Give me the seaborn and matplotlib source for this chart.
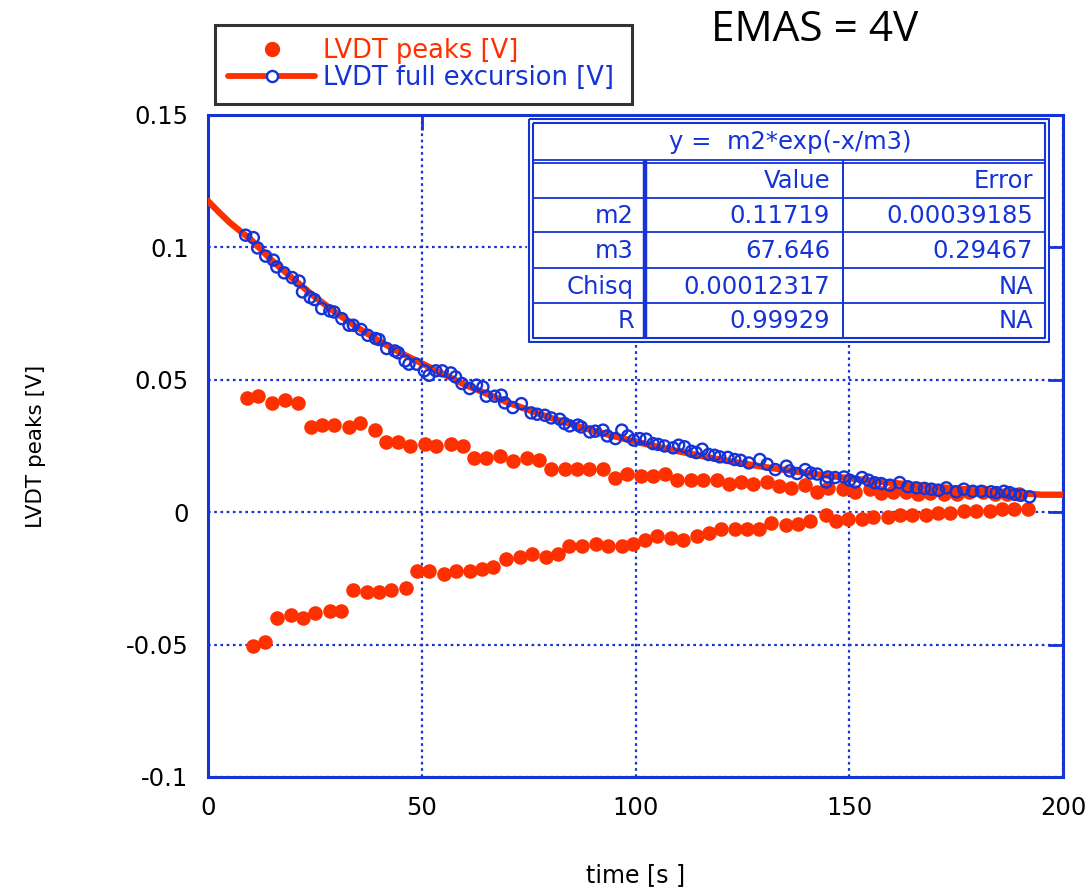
import numpy as np
import pandas as pd
import matplotlib
matplotlib.use("Agg")
import matplotlib.pyplot as plt
from matplotlib.lines import Line2D
import seaborn as sns

# ---------------- data ----------------
upper_t = [9.1, 11.8, 15.0, 17.9, 21.1, 24.0, 26.7, 29.5, 32.9, 35.6, 39.0, 41.7, 44.5, 47.3, 50.7,
           53.4, 56.8, 59.6, 62.3, 65.0, 68.4, 71.3, 74.6, 77.4, 80.2, 83.6, 86.3, 89.1, 92.4, 95.2,
           98.0, 101.3, 104.1, 106.9, 109.7, 113.0, 115.8, 119.1, 121.9, 124.7, 127.5, 130.8, 133.5,
           136.3, 139.7, 142.5, 145.0, 148.5, 151.3, 154.8, 157.5, 160.2, 163.3, 166.1, 168.8, 172.2,
           175.1, 178.1, 181.2, 184.1, 186.8, 189.8]
upper_v = [0.0432, 0.0439, 0.0414, 0.0423, 0.0414, 0.0320, 0.0328, 0.0328, 0.0320, 0.0337, 0.0312,
           0.0265, 0.0265, 0.0249, 0.0256, 0.0249, 0.0256, 0.0249, 0.0203, 0.0203, 0.0211, 0.0194,
           0.0203, 0.0196, 0.0162, 0.0162, 0.0162, 0.0162, 0.0162, 0.0131, 0.0146, 0.0138, 0.0138,
           0.0146, 0.0123, 0.0123, 0.0123, 0.0123, 0.0107, 0.0115, 0.0107, 0.0115, 0.0100, 0.0093,
           0.0102, 0.0077, 0.0093, 0.0086, 0.0077, 0.0086, 0.0073, 0.0075, 0.0075, 0.0067, 0.0071,
           0.0068, 0.0068, 0.0077, 0.0077, 0.0068, 0.0068, 0.0068]

lower_t = [10.6, 13.4, 16.2, 19.5, 22.3, 25.1, 28.5, 31.2, 34.0, 37.3, 40.1, 42.9, 46.2, 48.9, 51.7,
           55.1, 57.9, 61.3, 64.0, 66.7, 69.6, 73.0, 75.7, 79.0, 81.8, 84.5, 87.4, 90.7, 93.5, 96.8,
           99.5, 102.3, 105.1, 108.4, 111.2, 114.4, 117.3, 120.1, 123.3, 126.1, 129.0, 131.7, 135.2,
           137.9, 140.8, 144.6, 146.9, 149.6, 152.9, 155.6, 159.0, 161.9, 164.6, 167.9, 170.7, 173.6,
           176.9, 179.6, 182.9, 185.8, 188.5, 191.9]
lower_v = [-0.0506, -0.0490, -0.0398, -0.0389, -0.0398, -0.0380, -0.0373, -0.0373, -0.0294, -0.0302,
           -0.0302, -0.0294, -0.0286, -0.0223, -0.0223, -0.0232, -0.0223, -0.0223, -0.0215, -0.0208,
           -0.0175, -0.0169, -0.0159, -0.0169, -0.0159, -0.0128, -0.0128, -0.0121, -0.0128, -0.0128,
           -0.0121, -0.0106, -0.0090, -0.0097, -0.0106, -0.0090, -0.0080, -0.0065, -0.0065, -0.0065,
           -0.0065, -0.0042, -0.0050, -0.0043, -0.0034, -0.0011, -0.0034, -0.0026, -0.0026, -0.0019,
           -0.0019, -0.0011, -0.0011, -0.0011, -0.0003, -0.0003, 0.0005, 0.0005, 0.0005, 0.0012,
           0.0012, 0.0012]

circ_t = [8.8, 10.6, 11.6, 13.5, 15.3, 16.1, 17.8, 19.7, 21.3, 22.1,
          23.9, 24.9, 26.6, 28.5, 29.5, 31.3, 33.0, 34.0, 35.8, 37.4,
          39.2, 40.0, 41.8, 43.7, 44.5, 46.1, 47.0, 48.8, 50.6, 51.7,
          53.3, 54.8, 56.8, 57.9, 59.4, 61.2, 62.8, 64.3, 65.1, 67.1,
          68.6, 69.4, 71.3, 73.3, 75.6, 77.0, 78.8, 80.3, 82.3, 83.4,
          84.6, 86.5, 87.3, 89.3, 90.6, 92.4, 93.4, 95.3, 96.8, 98.2,
          99.6, 101.0, 102.5, 104.1, 105.3, 106.8, 108.8, 110.1, 111.5, 113.1,
          114.2, 115.6, 117.1, 118.5, 119.7, 121.6, 123.2, 124.6, 126.5, 129.1,
          130.8, 132.7, 135.3, 136.1, 137.8, 139.7, 141.0, 142.5, 144.6, 145.0,
          146.7, 148.8, 150.1, 151.4, 153.0, 154.5, 156.0, 157.5, 159.5, 161.8,
          163.7, 165.7, 167.6, 169.2, 170.9, 172.7, 175.0, 176.8, 178.9, 180.9,
          183.2, 184.4, 186.2, 187.5, 188.8, 190.2, 192.2]
circ_v = [0.1046, 0.1037, 0.0998, 0.0967, 0.0952, 0.0926, 0.0904, 0.0886, 0.0873, 0.0832,
          0.0811, 0.0803, 0.0769, 0.0760, 0.0756, 0.0731, 0.0706, 0.0706, 0.0690, 0.0668,
          0.0656, 0.0652, 0.0618, 0.0609, 0.0602, 0.0571, 0.0559, 0.0559, 0.0534, 0.0517,
          0.0534, 0.0534, 0.0526, 0.0511, 0.0486, 0.0467, 0.0480, 0.0473, 0.0438, 0.0438,
          0.0442, 0.0413, 0.0395, 0.0410, 0.0375, 0.0370, 0.0366, 0.0356, 0.0351, 0.0335,
          0.0326, 0.0329, 0.0322, 0.0303, 0.0306, 0.0310, 0.0288, 0.0278, 0.0310, 0.0288,
          0.0272, 0.0278, 0.0276, 0.0259, 0.0256, 0.0250, 0.0243, 0.0253, 0.0247, 0.0230,
          0.0225, 0.0238, 0.0218, 0.0215, 0.0209, 0.0207, 0.0199, 0.0196, 0.0186, 0.0199,
          0.0181, 0.0161, 0.0174, 0.0156, 0.0146, 0.0161, 0.0148, 0.0144, 0.0114, 0.0133,
          0.0131, 0.0133, 0.0121, 0.0114, 0.0131, 0.0121, 0.0111, 0.0108, 0.0102, 0.0112,
          0.0096, 0.0092, 0.0090, 0.0087, 0.0083, 0.0092, 0.0077, 0.0087, 0.0079, 0.0079,
          0.0077, 0.0074, 0.0079, 0.0074, 0.0067, 0.0064, 0.0058]

fit_t = [0, 2.5, 5, 7.5, 10, 15, 20, 25, 30, 35, 40, 45, 50, 60, 70, 80, 90, 100, 110, 120,
         130, 140, 150, 160, 170, 180, 190, 195, 200]
fit_v = [0.1175, 0.1134, 0.1095, 0.1062, 0.1030, 0.0950, 0.0880, 0.0813, 0.0752, 0.0697, 0.0647,
         0.0602, 0.0562, 0.0482, 0.0415, 0.0357, 0.0308, 0.0266, 0.0230, 0.0198, 0.0171, 0.0148,
         0.0128, 0.0111, 0.0096, 0.0083, 0.0072, 0.0066, 0.0066]

x_ticks = [0, 50, 100, 150, 200]
x_tick_labels = ["0", "50", "100", "150", "200"]
y_ticks = [-0.1, -0.05, 0, 0.05, 0.1, 0.15]
y_tick_labels = ["-0.1", "-0.05", "0", "0.05", "0.1", "0.15"]

fit_title = "y =  m2*exp(-x/m3)"
tbl_header = ["", "Value", "Error"]
tbl_names = ["m2", "m3", "Chisq", "R"]
tbl_values = ["0.11719", "67.646", "0.00012317", "0.99929"]
tbl_errors = ["0.00039185", "0.29467", "NA", "NA"]

RED = "#ff3000"
BLUE = "#1533d6"

# ---------------- figure ----------------
sns.set_theme(style="white")
plt.rcParams["font.family"] = ["DejaVu Sans"]

W, H = 1091, 889
fig = plt.figure(figsize=(W / 100, H / 100), dpi=100)
L, R, T, B = 208, 1063, 115, 777
ax = fig.add_axes([L / W, 1 - B / H, (R - L) / W, (B - T) / H])

peaks = pd.DataFrame({"t": upper_t + lower_t, "v": upper_v + lower_v})
circ = pd.DataFrame({"t": circ_t, "v": circ_v})
fit = pd.DataFrame({"t": fit_t, "v": fit_v})

sns.lineplot(data=fit, x="t", y="v", ax=ax, color=RED, linewidth=4.6, sort=True, zorder=3)
sns.scatterplot(data=peaks, x="t", y="v", ax=ax, color=RED, s=110, linewidth=0, zorder=4)
sns.scatterplot(data=circ, x="t", y="v", ax=ax, marker="o", s=64, facecolor="none",
                edgecolor=BLUE, linewidth=1.7, zorder=5)

ax.set_xlim(0, 200)
ax.set_ylim(-0.1, 0.15)
ax.set_xticks(x_ticks)
ax.set_xticklabels(x_tick_labels)
ax.set_yticks(y_ticks)
ax.set_yticklabels(y_tick_labels)
ax.grid(True, color=BLUE, linestyle=(0, (1.2, 1.6)), linewidth=1.6)
for s in ax.spines.values():
    s.set_color(BLUE)
    s.set_linewidth(2.2)
ax.tick_params(axis="both", direction="in", length=11, width=2, color=BLUE,
               top=True, right=True, labelsize=17.5, labelcolor="black")
ax.tick_params(axis="x", pad=14)
ax.tick_params(axis="y", pad=14)

ax.set_xlabel("time [s ]", fontsize=17, color="black")
ax.set_ylabel("LVDT peaks [V]", fontsize=15.5, color="black")
ax.xaxis.set_label_coords(0.5, -0.13)
ax.yaxis.set_label_coords(-0.19, 0.5)

# title
fig.text(815 / W, 1 - 30 / H, "EMAS = 4V", fontsize=30.5, ha="center", va="center",
         family=["Open Sans", "DejaVu Sans"], color="black")

# legend
handles = [Line2D([], [], color=RED, marker="o", linestyle="none", markersize=10),
           Line2D([], [], color=RED, linewidth=4.2, marker="o", markersize=8,
                  markerfacecolor="white", markeredgecolor=BLUE, markeredgewidth=1.7)]
leg = fig.legend(handles, ["LVDT peaks [V]", "LVDT full excursion [V]"],
                 loc="upper left",
                 bbox_to_anchor=(215 / W, 1 - 102 / H, (632 - 215) / W, (102 - 25) / H),
                 mode="expand",
                 fontsize=18.5, frameon=True, fancybox=False, handlelength=3.4,
                 handletextpad=0.3, borderpad=0.5, labelspacing=0.05, borderaxespad=0)
leg.get_frame().set_edgecolor("black")
leg.get_frame().set_linewidth(2.2)
for txt, c in zip(leg.get_texts(), [RED, BLUE]):
    txt.set_color(c)

# fit table
tx0, tx1, ty0, ty1 = 527, 1050, 117, 343
tax = fig.add_axes([tx0 / W, 1 - ty1 / H, (tx1 - tx0) / W, (ty1 - ty0) / H])
tax.set_xlim(tx0, tx1)
tax.set_ylim(ty1, ty0)
tax.set_facecolor("white")
tax.set_zorder(10)
for s in tax.spines.values():
    s.set_visible(False)
tax.set_xticks([])
tax.set_yticks([])
kw = dict(color=BLUE, solid_capstyle="butt")
for inset in (1.5, 5.5):
    tax.plot([tx0 + inset, tx1 - inset, tx1 - inset, tx0 + inset, tx0 + inset],
             [ty0 + inset, ty0 + inset, ty1 - inset, ty1 - inset, ty0 + inset], lw=1.5, **kw)
row_y = [160, 198, 232, 268, 303]
for yy in row_y:
    tax.plot([tx0 + 5.5, tx1 - 5.5], [yy, yy], lw=1.3, **kw)
tax.plot([tx0 + 5.5, tx1 - 5.5], [163, 163], lw=1.3, **kw)
tax.plot([645, 645], [160, ty1 - 5.5], lw=3.2, **kw)
tax.plot([843, 843], [160, ty1 - 5.5], lw=1.4, **kw)
tfs = 17.5
tax.text(790, 142, fit_title, ha="center", va="center", fontsize=tfs, color=BLUE)
tax.text(830, 181, tbl_header[1], ha="right", va="center", fontsize=tfs, color=BLUE)
tax.text(1033, 181, tbl_header[2], ha="right", va="center", fontsize=tfs, color=BLUE)
centers = [216, 251, 287, 321]
for yc, n, v, e in zip(centers, tbl_names, tbl_values, tbl_errors):
    tax.text(634, yc, n, ha="right", va="center", fontsize=tfs, color=BLUE)
    tax.text(830, yc, v, ha="right", va="center", fontsize=tfs, color=BLUE)
    tax.text(1033, yc, e, ha="right", va="center", fontsize=tfs, color=BLUE)

fig.savefig("out.png", dpi=100)
